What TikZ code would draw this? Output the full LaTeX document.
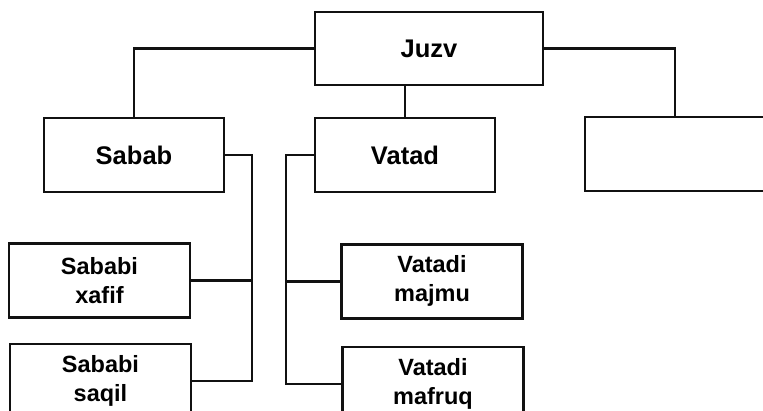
\documentclass[tikz,border=0pt]{standalone}
\usepackage{fontspec}
\setmainfont{Liberation Sans}
\usetikzlibrary{positioning}
\definecolor{InkBlack}{HTML}{111111}

\begin{document}
\begin{tikzpicture}[x=1pt, y=1pt,
  treelink/.style={line width=2.2pt, draw=InkBlack},
  partbox/.style={draw=InkBlack, line width=2.2pt, minimum width=180pt, minimum height=74pt,
    inner sep=0pt, font=\bfseries\fontsize{25.5}{30}\selectfont},
  rootbox/.style={partbox, minimum width=228pt, minimum height=73pt},
  kindbox/.style={partbox, minimum width=181pt, align=center,
    font=\bfseries\fontsize{23.5}{29}\selectfont}
]
\useasboundingbox (0,0) rectangle (763,-410);
\node[rootbox] (juzv) at (429,-48.5) {Juzv};
\node[partbox, below=31pt of juzv, xshift=-295pt] (sabab) {Sabab};
\node[partbox, below=31pt of juzv, xshift=-24pt] (vatad) {Vatad};
\node[partbox, below=30pt of juzv, xshift=246pt] (blank) {};
\node[kindbox, below=49pt of sabab, xshift=-34.5pt] (xafif) {Sababi\\xafif};
\node[kindbox, below=24pt of xafif, xshift=1pt] (saqil) {Sababi\\saqil};
\node[kindbox, below=50pt of vatad, xshift=27pt] (majmu) {Vatadi\\majmu};
\node[kindbox, below=26pt of majmu, xshift=1pt] (mafruq) {Vatadi\\mafruq};
% buses beside the second row
\coordinate (sababbus) at ([xshift=27pt]sabab.east);
\coordinate (vatadbus) at ([xshift=-28pt]vatad.west);
\draw[treelink] (juzv.west) -| (sabab.north);
\draw[treelink] (juzv.east) -| (blank.north);
\draw[treelink] (vatad.north) -- (vatad.north |- juzv.south);
\draw[treelink] (sabab.east) -| (sababbus |- saqil.east) -- (saqil.east);
\draw[treelink] (xafif.east) -- (xafif.east -| sababbus);
\draw[treelink] (vatad.west) -| (vatadbus |- mafruq.west) -- (mafruq.west);
\draw[treelink] (majmu.west) -- (majmu.west -| vatadbus);
\end{tikzpicture}
\end{document}
